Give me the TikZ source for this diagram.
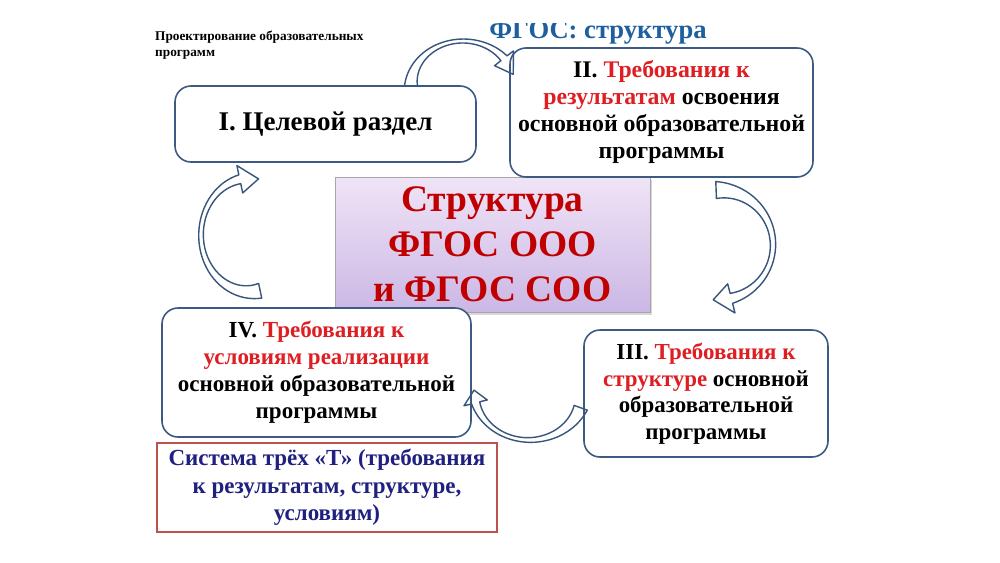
\documentclass[tikz,border=0pt]{standalone}
\usepackage{fontspec}
\setmainfont{Liberation Serif}
\usetikzlibrary{shadows}
\definecolor{boxline}{RGB}{60,90,130}
\definecolor{arrline}{RGB}{55,85,125}
\definecolor{redtxt}{RGB}{222,30,35}
\definecolor{darkred}{RGB}{192,0,0}
\definecolor{navytxt}{RGB}{32,32,128}
\definecolor{titleblue}{RGB}{30,95,160}
\definecolor{redframe}{RGB}{190,80,78}
\definecolor{lavtop}{RGB}{240,228,246}
\definecolor{lavbot}{RGB}{203,183,229}
\newcommand{\curvarrow}[9]{%
 \draw[arrowshape]
  plot[domain=0:1,samples=40,variable=\x]
   ({#1+(#3+0.5*wd(\x,#8))*cos(#5+(#6-(#5))*\x)},{#2+(#4+0.5*wd(\x,#8))*sin(#5+(#6-(#5))*\x)})
  -- ({#1+(#3+0.5*#9)*cos(#6)},{#2+(#4+0.5*#9)*sin(#6)})
  -- ({#1+#3*cos(#7)},{#2+#4*sin(#7)})
  -- ({#1+(#3-0.5*#9)*cos(#6)},{#2+(#4-0.5*#9)*sin(#6)})
  -- plot[domain=0:1,samples=40,variable=\x]
   ({#1+(#3-0.5*wd(1-\x,#8))*cos(#5+(#6-(#5))*(1-\x))},{#2+(#4-0.5*wd(1-\x,#8))*sin(#5+(#6-(#5))*(1-\x))})
  -- cycle;}
\begin{document}
\begin{tikzpicture}[x=1pt,y=-1pt,
  declare function={wd(\s,\w)=\w*(1-\s)^2+0.6*\w*\s^2-0.3*\w*\s*(1-\s);},
  stagebox/.style={draw=boxline, line width=1.6pt, rounded corners=16pt, fill=white,
    align=center, inner sep=0pt},
  centerbox/.style={draw=black!35, line width=0.8pt, top color=lavtop, bottom color=lavbot,
    drop shadow={opacity=0.3, shadow xshift=2pt, shadow yshift=-3pt},
    align=center, inner sep=0pt, text=darkred, font=\fontsize{37.5}{45}\selectfont\bfseries},
  notebox/.style={draw=redframe, line width=1.5pt, fill=white, align=center, inner sep=0pt,
    text=navytxt, font=\fontsize{23}{27.5}\selectfont\bfseries},
  arrowshape/.style={draw=arrline, line width=1.4pt, line join=round},
  titletext/.style={text=titleblue, inner sep=0pt, font=\fontsize{26.6}{30}\selectfont\bfseries},
  headtext/.style={inner sep=0pt, align=left, font=\fontsize{13.3}{16}\selectfont\bfseries}]
\useasboundingbox (0,0) rectangle (1000,562);
\fill[white] (0,0) rectangle (1000,562);

\node[headtext, anchor=north west] (head) at (155,30.5) {Проектирование образовательных\\программ};
\begin{scope}
  \clip (470,23) rectangle (730,60);
  \node[titletext, anchor=base] (title) at (598,38) {ФГОС: структура};
\end{scope}

\node[centerbox, minimum width=315pt, minimum height=135pt] (center) at (492.5,244.5)
  {Структура\\ФГОС ООО\\и ФГОС СОО};

\node[stagebox, minimum width=301pt, minimum height=76pt, font=\fontsize{27}{30}\selectfont\bfseries]
  (s1) at (325.5,124) {I. Целевой раздел};
\node[stagebox, minimum width=303pt, minimum height=129pt, font=\fontsize{23.8}{27}\selectfont\bfseries]
  (s2) at (661.5,112.5)
  {II. \textcolor{redtxt}{Требования к}\\\textcolor{redtxt}{результатам} освоения\\основной образовательной\\программы};
\node[stagebox, minimum width=244pt, minimum height=127pt, font=\fontsize{22.9}{26.5}\selectfont\bfseries]
  (s3) at (706,393.5)
  {III. \textcolor{redtxt}{Требования к}\\\textcolor{redtxt}{структуре} основной\\образовательной\\программы};
\node[stagebox, minimum width=309pt, minimum height=129pt, font=\fontsize{23}{27}\selectfont\bfseries]
  (s4) at (316.5,372.5)
  {IV. \textcolor{redtxt}{Требования к}\\\textcolor{redtxt}{условиям реализации}\\основной образовательной\\программы};

\node[notebox, minimum width=340pt, minimum height=89pt] (note) at (327,487.5)
  {Система трёх «Т» (требования\\к результатам, структуре,\\условиям)};

% curved block arrows: cx, cy, rx, ry, tail angle, head-base angle, tip angle, tail width, head width
\curvarrow{463}{86}{52}{45}{180}{322}{345}{13}{24}
\curvarrow{718}{245}{55}{55}{-92}{76}{95}{17}{30}
\curvarrow{529}{391}{55}{49}{20}{166}{181}{14}{24}
\curvarrow{250}{235}{49}{57}{78}{258}{280}{15}{28}
\end{tikzpicture}
\end{document}
